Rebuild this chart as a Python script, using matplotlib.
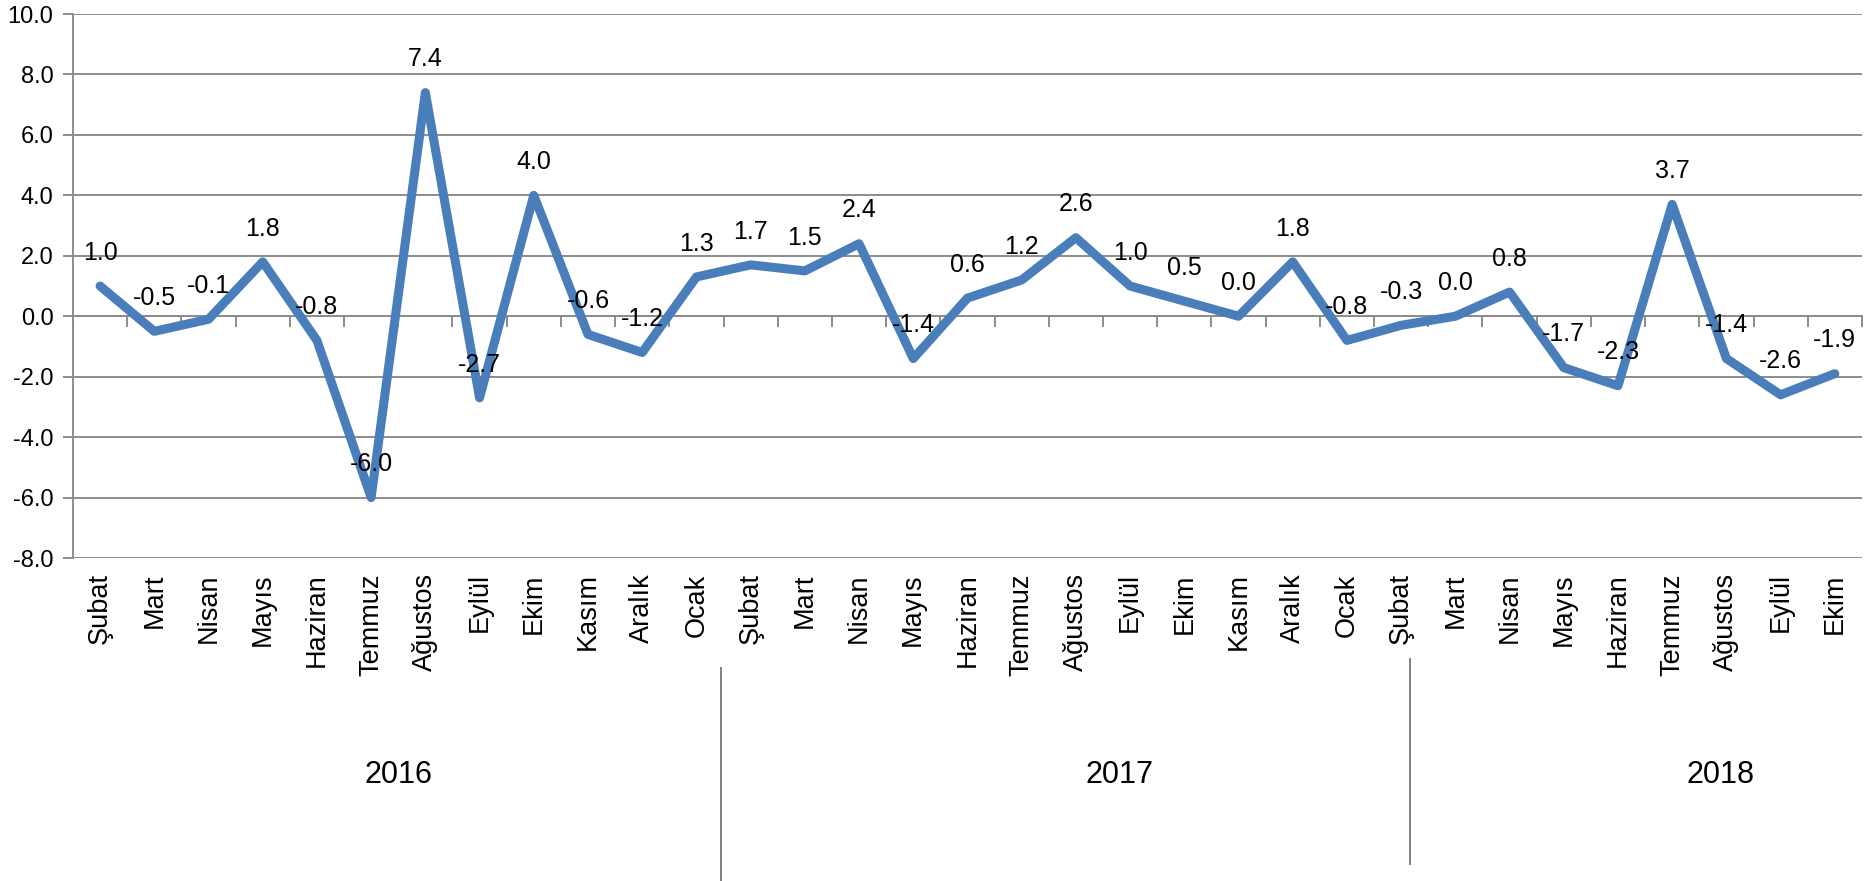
import matplotlib.pyplot as plt
from matplotlib.ticker import FormatStrFormatter

months = ['Şubat', 'Mart', 'Nisan', 'Mayıs', 'Haziran', 'Temmuz', 'Ağustos', 'Eylül', 'Ekim', 'Kasım', 'Aralık', 'Ocak',
          'Şubat', 'Mart', 'Nisan', 'Mayıs', 'Haziran', 'Temmuz', 'Ağustos', 'Eylül', 'Ekim', 'Kasım', 'Aralık', 'Ocak',
          'Şubat', 'Mart', 'Nisan', 'Mayıs', 'Haziran', 'Temmuz', 'Ağustos', 'Eylül', 'Ekim']
values = [1.0, -0.5, -0.1, 1.8, -0.8, -6.0, 7.4, -2.7, 4.0, -0.6, -1.2, 1.3,
          1.7, 1.5, 2.4, -1.4, 0.6, 1.2, 2.6, 1.0, 0.5, 0.0, 1.8, -0.8,
          -0.3, 0.0, 0.8, -1.7, -2.3, 3.7, -1.4, -2.6, -1.9]
years = ['2016', '2017', '2018']

narrow = ['Liberation Sans Narrow', 'Liberation Sans']
regular = ['Liberation Sans', 'DejaVu Sans']
grid_col = '#8c8c8c'
line_col = '#4a7ebb'

x = list(range(len(values)))

fig = plt.figure(figsize=(18.76, 8.81), dpi=100)
ax = fig.add_axes([0.0389, 0.3666, 0.9536, 0.6175])

ax.plot(x, values, color=line_col, lw=6.5, solid_joinstyle='round', solid_capstyle='round', zorder=3)

for i, v in enumerate(values):
    ax.annotate(f'{v:.1f}', (i, v), xytext=(0, 24), textcoords='offset points',
                ha='center', va='center', fontsize=18, family=narrow, zorder=4)

ax.set_xlim(-0.5, len(values) - 0.5)
ax.set_ylim(-8, 10)
ax.set_yticks(range(-8, 11, 2))
ax.yaxis.set_major_formatter(FormatStrFormatter('%.1f'))
for lab in ax.get_yticklabels():
    lab.set_family(narrow)
ax.tick_params(axis='y', labelsize=17, length=7, width=1.4, color=grid_col, pad=7)
ax.grid(axis='y', color=grid_col, lw=1.4, zorder=1)

# category axis crosses at zero, ticks between categories
ax.spines['bottom'].set_position(('data', 0))
ax.spines['bottom'].set_color(grid_col)
ax.spines['bottom'].set_linewidth(1.4)
ax.set_xticks([i - 0.5 for i in range(len(values) + 1)])
ax.set_xticklabels([])
ax.tick_params(axis='x', length=8, width=1.4, color=grid_col)
ax.spines['left'].set_color(grid_col)
ax.spines['left'].set_linewidth(1.4)
ax.spines['top'].set_visible(False)
ax.spines['right'].set_visible(False)

# month labels at the bottom of the plot
sec = ax.secondary_xaxis('bottom')
sec.set_xticks(x, labels=months, rotation=90)
sec.tick_params(length=0, pad=11, labelsize=19.5)
for lab in sec.get_xticklabels():
    lab.set_family(regular)
sec.spines['bottom'].set_visible(False)

# year groups
year_pos = [5.5, 18.8, 29.9]
for yr, xp in zip(years, year_pos):
    ax.text(xp, -0.399, yr, transform=ax.get_xaxis_transform(), ha='center', va='center',
            fontsize=22, family=regular)
for xp, y0, y1 in [(11.45, -0.202, -0.6), (24.17, -0.185, -0.562)]:
    ax.plot([xp, xp], [y0, y1], transform=ax.get_xaxis_transform(), color='#808080',
            lw=1.4, clip_on=False)

fig.savefig('out.png', dpi=100)
